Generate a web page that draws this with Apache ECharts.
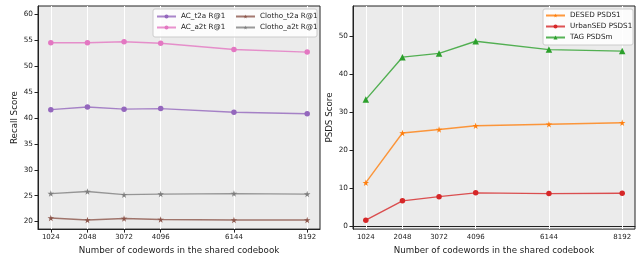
<!DOCTYPE html>
<html><head><meta charset="utf-8">
<script src="https://cdn.jsdelivr.net/npm/echarts@6/dist/echarts.min.js"></script>
<style>html,body{margin:0;padding:0;background:#fff}#c{width:637px;height:260px}</style>
</head><body><div id="c"></div>
<script>
const codewords = [1024, 2048, 3072, 4096, 6144, 8192];
const leftTicks = [20, 25, 30, 35, 40, 45, 50, 55, 60];
const rightTicks = [0, 10, 20, 30, 40, 50];

const acT2a = [41.6, 42.1, 41.7, 41.8, 41.1, 40.8];
const acA2t = [54.5, 54.5, 54.7, 54.4, 53.2, 52.7];
const clothoT2a = [20.7, 20.3, 20.6, 20.4, 20.3, 20.3];
const clothoA2t = [25.4, 25.8, 25.2, 25.3, 25.4, 25.3];

const desed = [11.4, 24.5, 25.4, 26.4, 26.8, 27.2];
const urbansed = [1.5, 6.6, 7.7, 8.7, 8.5, 8.6];
const tag = [33.3, 44.5, 45.5, 48.7, 46.5, 46.1];

const STAR = 'path://M50,0 L61,35 L98,35 L68,57 L79,91 L50,70 L21,91 L32,57 L2,35 L39,35 Z';
const FONT = 'DejaVu Sans';
const txt = '#222';

function pairs(ys){ return codewords.map((x,i)=>[x, ys[i]]); }
function mk(name, ys, color, symbol, size, xi){
  return {name, type:'line', xAxisIndex:xi, yAxisIndex:xi, data:pairs(ys),
    symbol, symbolSize:size, z:3,
    itemStyle:{color}, lineStyle:{color, width:1.4, opacity:0.8}};
}
function gridSeries(xi){
  return {type:'line', xAxisIndex:xi, yAxisIndex:xi, data:[], z:1, silent:true,
    markLine:{silent:true, z:1, symbol:'none', label:{show:false},
      lineStyle:{color:'#fff', width:1, type:'solid'},
      data:codewords.map(v=>({xAxis:v}))}};
}
function xAx(gi){
  return {type:'value', gridIndex:gi, min:666, max:8550,
    name:'Number of codewords in the shared codebook', nameLocation:'middle', nameGap:15,
    nameTextStyle:{fontFamily:FONT, fontSize:8.7, color:txt},
    axisLine:{show:true, lineStyle:{color:'#222'}},
    axisTick:{show:true, customValues:codewords, length:3.5, lineStyle:{color:'#222'}},
    axisLabel:{customValues:codewords, margin:5, fontFamily:FONT, fontSize:7, color:txt,
      formatter:v=>String(v)},
    splitLine:{show:false}};
}
function yAx(gi, min, max, ticks, name){
  return {type:'value', gridIndex:gi, min, max, name, nameLocation:'middle', nameGap:19,
    nameTextStyle:{fontFamily:FONT, fontSize:8.7, color:txt},
    axisLine:{show:true, lineStyle:{color:'#222'}},
    axisTick:{show:true, customValues:ticks, length:3.5, lineStyle:{color:'#222'}},
    axisLabel:{customValues:ticks, margin:5, fontFamily:FONT, fontSize:7.3, color:txt},
    splitLine:{show:false}};
}
const legendCommon = {orient:'vertical', itemWidth:19, itemHeight:5, itemGap:4,
  textStyle:{fontFamily:FONT, fontSize:7.2, color:txt}, padding:0};

const chart = echarts.init(document.getElementById('c'), null, {renderer:'canvas'});
chart.setOption({
  animation:false,
  backgroundColor:'#fff',
  grid:[
    {left:38, right:317, top:6, bottom:26, show:true, backgroundColor:'#ebebeb', borderColor:'#222', borderWidth:1},
    {left:353, right:2, top:6, bottom:26, show:true, backgroundColor:'#ebebeb', borderColor:'#222', borderWidth:1}
  ],
  xAxis:[xAx(0), xAx(1)],
  yAxis:[yAx(0, 18.55, 61.6, leftTicks, 'Recall Score'), yAx(1, -0.86, 58, rightTicks, 'PSDS Score')],
  graphic:[
    {type:'rect', shape:{x:153, y:9, width:164, height:28, r:2}, style:{fill:'rgba(255,255,255,0.85)', stroke:'#ccc', lineWidth:1}, z:50},
    {type:'rect', shape:{x:543, y:9, width:90, height:36, r:2}, style:{fill:'rgba(255,255,255,0.85)', stroke:'#ccc', lineWidth:1}, z:50}
  ],
  legend:[
    Object.assign({left:156, top:13, data:['AC_t2a R@1','AC_a2t R@1'], z:60}, legendCommon),
    Object.assign({left:235, top:13, data:['Clotho_t2a R@1','Clotho_a2t R@1'], z:60}, legendCommon),
    Object.assign({left:545, top:12, data:['DESED PSDS1','UrbanSED PSDS1','TAG PSDSm'], z:60}, legendCommon)
  ],
  series:[
    gridSeries(0), gridSeries(1),
    mk('AC_t2a R@1', acT2a, '#9467bd', 'circle', 5.5, 0),
    mk('AC_a2t R@1', acA2t, '#e377c2', 'circle', 5.5, 0),
    mk('Clotho_t2a R@1', clothoT2a, '#8c564b', STAR, 6.5, 0),
    mk('Clotho_a2t R@1', clothoA2t, '#7f7f7f', STAR, 6.5, 0),
    mk('DESED PSDS1', desed, '#ff7f0e', STAR, 6.5, 1),
    mk('UrbanSED PSDS1', urbansed, '#d62728', 'circle', 5.5, 1),
    mk('TAG PSDSm', tag, '#2ca02c', 'triangle', 6.5, 1)
  ]
});
</script></body></html>
